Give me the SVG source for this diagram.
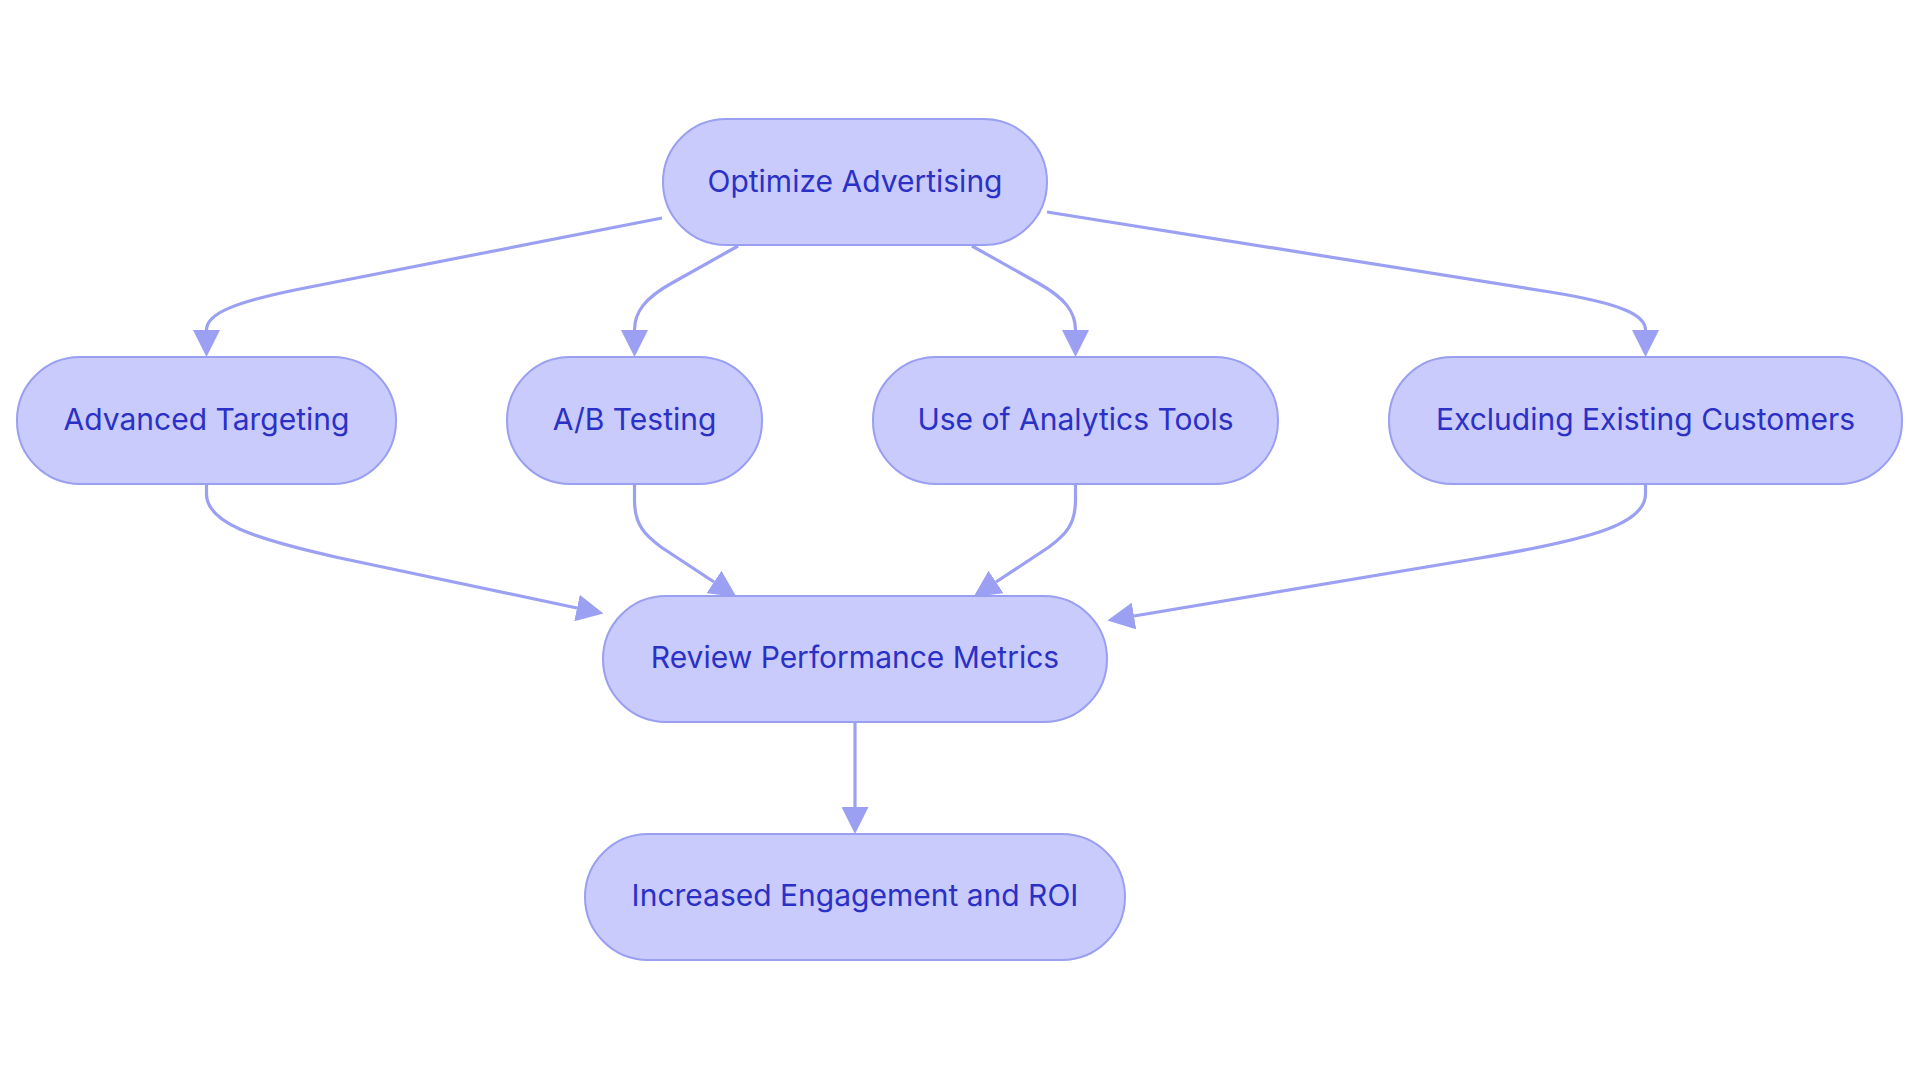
<svg xmlns="http://www.w3.org/2000/svg" width="1920" height="1083" viewBox="0 0 1920 1083">
<style>
.node rect{fill:#c8cbfc;stroke:#9a9ff2;stroke-width:2}
.node text{font-family:Inter,"Noto Sans",sans-serif;font-size:30px;fill:#2b30c6;text-anchor:middle}
.edge{fill:none;stroke:#9ca0f2;stroke-width:3.2}
</style>
<defs>
<marker id="arr" viewBox="0 0 10 10" refX="0" refY="5" markerWidth="27" markerHeight="27" markerUnits="userSpaceOnUse" orient="auto">
<path d="M0,0 L10,5 L0,10 z" fill="#9ca0f2"/>
</marker>
</defs>
<rect width="1920" height="1083" fill="#ffffff"/>
<g id="connectors">
<path class="edge" marker-end="url(#arr)" d="M662,218 L310,287 C232,302 206.5,314 206.5,330"/>
<path class="edge" marker-end="url(#arr)" d="M738,246 L672,283 C645,298 634.5,312 634.5,330"/>
<path class="edge" marker-end="url(#arr)" d="M972,246 L1038,283 C1065,298 1075.5,312 1075.5,330"/>
<path class="edge" marker-end="url(#arr)" d="M1047,212 L1550,292 C1625,304 1645.5,316 1645.5,330"/>
<path class="edge" marker-end="url(#arr)" d="M206.5,484 L206.5,494 C206.5,522 250,538 340,558 L577,608"/>
<path class="edge" marker-end="url(#arr)" d="M634.5,484 L634.5,500 C634.5,525 645,535 661,547 L714,582"/>
<path class="edge" marker-end="url(#arr)" d="M1075.5,484 L1075.5,500 C1075.5,525 1065,535 1049,547 L996,582"/>
<path class="edge" marker-end="url(#arr)" d="M1645.5,484 L1645.5,494 C1645.5,522 1600,538 1480,558 L1134,616"/>
<path class="edge" marker-end="url(#arr)" d="M855,722 L855,807"/>
</g>
<g id="n-optimize" class="node"><rect x="663" y="119" width="384" height="126" rx="63"/><text x="855" y="192">Optimize Advertising</text></g>
<g id="n-targeting" class="node"><rect x="17" y="357" width="379" height="127" rx="63"/><text x="206.5" y="430">Advanced Targeting</text></g>
<g id="n-abtesting" class="node"><rect x="507" y="357" width="255" height="127" rx="63"/><text x="634.5" y="430">A/B Testing</text></g>
<g id="n-analytics" class="node"><rect x="873" y="357" width="405" height="127" rx="63"/><text x="1075.5" y="430">Use of Analytics Tools</text></g>
<g id="n-excluding" class="node"><rect x="1389" y="357" width="513" height="127" rx="63"/><text x="1645.5" y="430">Excluding Existing Customers</text></g>
<g id="n-review" class="node"><rect x="603" y="596" width="504" height="126" rx="63"/><text x="855" y="668">Review Performance Metrics</text></g>
<g id="n-increased" class="node"><rect x="585" y="834" width="540" height="126" rx="63"/><text x="855" y="906">Increased Engagement and ROI</text></g>
</svg>
